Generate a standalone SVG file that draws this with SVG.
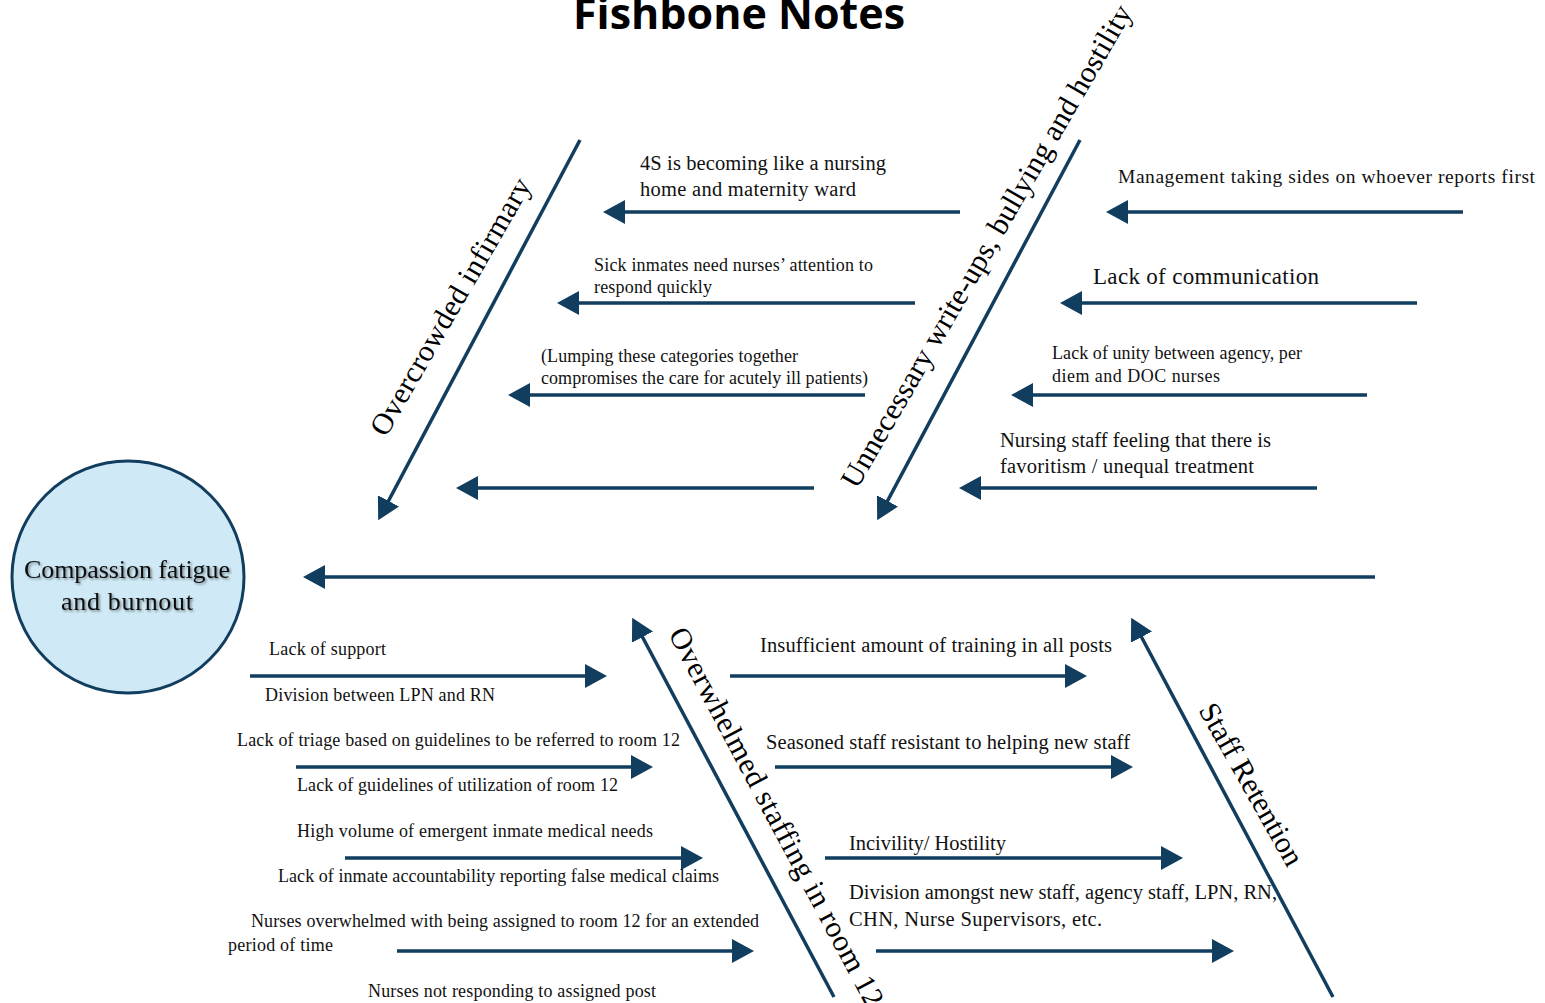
<svg xmlns="http://www.w3.org/2000/svg" width="1545" height="1003" viewBox="0 0 1545 1003">
<defs>
<marker id="ah" viewBox="0 0 22 24" refX="16" refY="12" markerWidth="22" markerHeight="24" markerUnits="userSpaceOnUse" orient="auto">
<path d="M0,0 L22,12 L0,24 Z" fill="#113d5f"/>
</marker>
<filter id="sh" x="-10%" y="-20%" width="120%" height="140%">
<feDropShadow dx="1.5" dy="1.5" stdDeviation="1" flood-color="#000" flood-opacity="0.45"/>
</filter>
</defs>
<style>
.bone{stroke:#113d5f;stroke-width:3.5;fill:none;marker-end:url(#ah)}
.t{font-family:"Liberation Serif","Times New Roman",serif;fill:#111}
.s17{font-size:18px}
.s19{font-size:19.5px}
.s20{font-size:20.5px}
.s23{font-size:23px}
.cat{font-family:"Liberation Serif","Times New Roman",serif;font-size:30px;fill:#000}
.title{font-family:"Open Sans","Noto Sans",sans-serif;font-weight:bold;font-size:43px;fill:#000}
</style>
<rect width="1545" height="1003" fill="#fff"/>
<text class="title" x="739" y="29" text-anchor="middle">Fishbone Notes</text>

<g id="connectors">
<line class="bone" x1="1375" y1="577" x2="309" y2="577"/>
<line class="bone" x1="580" y1="140" x2="381" y2="515"/>
<line class="bone" x1="1080" y1="140" x2="880" y2="515"/>
<line class="bone" x1="834" y1="997" x2="635" y2="623"/>
<line class="bone" x1="1333" y1="997" x2="1134" y2="623"/>
<line class="bone" x1="960" y1="212" x2="609" y2="212"/>
<line class="bone" x1="915" y1="303" x2="563" y2="303"/>
<line class="bone" x1="865" y1="395" x2="514" y2="395"/>
<line class="bone" x1="814" y1="488" x2="462" y2="488"/>
<line class="bone" x1="1463" y1="212" x2="1112" y2="212"/>
<line class="bone" x1="1417" y1="303" x2="1066" y2="303"/>
<line class="bone" x1="1367" y1="395" x2="1017" y2="395"/>
<line class="bone" x1="1317" y1="488" x2="965" y2="488"/>
<line class="bone" x1="250" y1="676" x2="601" y2="676"/>
<line class="bone" x1="296" y1="767" x2="647" y2="767"/>
<line class="bone" x1="345" y1="858" x2="697" y2="858"/>
<line class="bone" x1="397" y1="951" x2="748" y2="951"/>
<line class="bone" x1="730" y1="676" x2="1081" y2="676"/>
<line class="bone" x1="775" y1="767" x2="1127" y2="767"/>
<line class="bone" x1="825" y1="858" x2="1177" y2="858"/>
<line class="bone" x1="876" y1="951" x2="1228" y2="951"/>
</g>

<g id="head">
<circle cx="128" cy="577" r="116" fill="#cfeaf6" stroke="#113d5f" stroke-width="3"/>
<g filter="url(#sh)">
<text class="t" x="127" y="578" text-anchor="middle" font-size="26" textLength="206" fill="#000">Compassion fatigue</text>
<text class="t" x="127" y="610" text-anchor="middle" font-size="26" textLength="132" fill="#000">and burnout</text>
</g>
</g>

<g id="cat-overcrowded">
<text class="cat" transform="translate(386,438) rotate(-60)" textLength="292">Overcrowded infirmary</text>
</g>
<g id="cat-unnecessary">
<text class="cat" transform="translate(857,490) rotate(-60)" textLength="552">Unnecessary write-ups, bullying and hostility</text>
</g>
<g id="cat-overwhelmed">
<text class="cat" transform="translate(668,634) rotate(62)" textLength="425">Overwhelmed staffing in room 12</text>
</g>
<g id="cat-retention">
<text class="cat" font-size="28" transform="translate(1198,710) rotate(60.5)" textLength="182">Staff Retention</text>
</g>

<g id="cause-4s">
<text class="t s20" x="640" y="170" textLength="246">4S is becoming like a nursing</text>
<text class="t s20" x="640" y="196" textLength="216">home and maternity ward</text>
</g>
<g id="cause-sick">
<text class="t s17" x="594" y="271" textLength="279">Sick inmates need nurses’ attention to</text>
<text class="t s17" x="594" y="293" textLength="118">respond quickly</text>
</g>
<g id="cause-lumping">
<text class="t s17" x="541" y="362" textLength="257">(Lumping these categories together</text>
<text class="t s17" x="541" y="384" textLength="327">compromises the care for acutely ill patients)</text>
</g>
<g id="cause-management">
<text class="t s19" x="1118" y="183" textLength="417">Management taking sides on whoever reports first</text>
</g>
<g id="cause-communication">
<text class="t s23" x="1093" y="284" textLength="226">Lack of communication</text>
</g>
<g id="cause-unity">
<text class="t s17" x="1052" y="359" textLength="250">Lack of unity between agency, per</text>
<text class="t s17" x="1052" y="382" textLength="168">diem and DOC nurses</text>
</g>
<g id="cause-favoritism">
<text class="t s20" x="1000" y="447" textLength="271">Nursing staff feeling that there is</text>
<text class="t s20" x="1000" y="473" textLength="254">favoritism / unequal treatment</text>
</g>

<g id="cause-support">
<text class="t s17" x="269" y="655" textLength="117">Lack of support</text>
<text class="t s17" x="265" y="701" textLength="230">Division between LPN and RN</text>
</g>
<g id="cause-triage">
<text class="t s17" x="237" y="746" textLength="443">Lack of triage based on guidelines to be referred to room 12</text>
<text class="t s17" x="297" y="791" textLength="321">Lack of guidelines of utilization of room 12</text>
</g>
<g id="cause-volume">
<text class="t s17" x="297" y="837" textLength="356">High volume of emergent inmate medical needs</text>
<text class="t s17" x="278" y="882" textLength="441">Lack of inmate accountability reporting false medical claims</text>
</g>
<g id="cause-assigned">
<text class="t s17" x="251" y="927" textLength="508">Nurses overwhelmed with being assigned to room 12 for an extended</text>
<text class="t s17" x="228" y="951" textLength="105">period of time</text>
<text class="t s17" x="368" y="997" textLength="288">Nurses not responding to assigned post</text>
</g>

<g id="cause-training">
<text class="t s20" x="760" y="652" textLength="352">Insufficient amount of training in all posts</text>
</g>
<g id="cause-seasoned">
<text class="t s20" x="766" y="749" textLength="364">Seasoned staff resistant to helping new staff</text>
</g>
<g id="cause-incivility">
<text class="t s20" x="849" y="850" textLength="157">Incivility/ Hostility</text>
</g>
<g id="cause-division">
<text class="t s20" x="849" y="899" textLength="428">Division amongst new staff, agency staff, LPN, RN,</text>
<text class="t s20" x="849" y="926" textLength="253">CHN, Nurse Supervisors, etc.</text>
</g>
</svg>
